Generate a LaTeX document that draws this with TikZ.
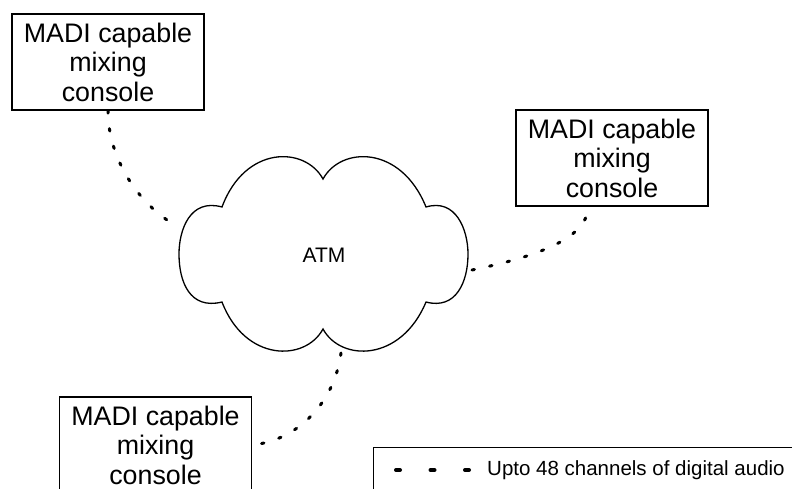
\documentclass[tikz,border=0pt]{standalone}
\usepackage{fontspec}
\setmainfont{Liberation Sans}
\begin{document}
\begin{tikzpicture}[x=1pt,y=-1pt,
  console/.style={draw,line width=1.3pt,minimum width=192pt,minimum height=96pt,inner sep=0pt,align=center,font=\fontsize{26.8}{29.5}\selectfont},
  link/.style={line width=3pt,line cap=round,dash pattern=on 2.5pt off 15.5pt},
  outline/.style={line width=1.3pt}]
\useasboundingbox (0,0) rectangle (792,488);
\clip (0,0) rectangle (792,488);
% consoles
\node[console] (b1) at (108,62) {MADI capable\\mixing\\console};
\node[console] (b2) at (612,158) {MADI capable\\mixing\\console};
\node[console] (b3) at (155.5,445) {MADI capable\\mixing\\console};
% cloud
\draw[outline] (323,179)
  .. controls (305,146) and (245,145) .. (222,207)
  .. controls (190,198) and (179,230) .. (179,254)
  .. controls (179,282) and (190,310) .. (222,302)
  .. controls (245,362) and (305,362) .. (323,329)
  .. controls (341,362) and (401,362) .. (426,302)
  .. controls (456,310) and (468,282) .. (468,254)
  .. controls (468,230) and (456,198) .. (426,207)
  .. controls (401,145) and (341,146) .. (323,179) -- cycle;
\node[font=\fontsize{21}{25}\selectfont] (atm) at (324,255) {ATM};
\coordinate (c1) at (175,225);
\coordinate (c2) at (472,270);
\coordinate (c3) at (341,353);
\coordinate (b2a) at ([xshift=-24pt]b2.south);
% connectors
\draw[link] (b1.south) .. controls (108,160) and (140,205) .. (c1);
\draw[link] (c2) .. controls (530,258) and (588,240) .. (b2a);
\draw[link] (c3) .. controls (335,400) and (300,440) .. (b3.east);
% legend
\node[draw,line width=1.3pt,minimum width=440pt,minimum height=60pt,anchor=north west,inner sep=0pt] (leg) at (373,447) {};
\coordinate (l1) at (396,470);
\coordinate (l2) at (470,470);
\draw[line width=4pt,line cap=round,dash pattern=on 4pt off 30.5pt] (l1) -- (l2);
\node[anchor=west,inner sep=0pt,font=\fontsize{20.5}{24}\selectfont] (legtext) at (487,470) {Upto 48 channels of digital audio};
\end{tikzpicture}
\end{document}
